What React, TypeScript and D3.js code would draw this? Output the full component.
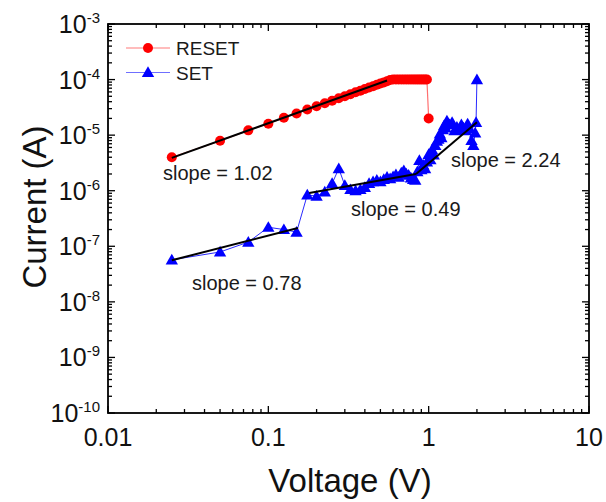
import React, { useEffect, useRef } from 'react';
import * as d3 from 'd3';

// RESET sweep (red circles)
const resetVoltage = [
  0.025, 0.05, 0.075, 0.1, 0.125, 0.15, 0.175, 0.2, 0.225, 0.25,
  0.275, 0.3, 0.325, 0.35, 0.375, 0.4, 0.425, 0.45, 0.475, 0.5,
  0.525, 0.55, 0.575, 0.6, 0.625, 0.65, 0.675, 0.7, 0.725, 0.75,
  0.775, 0.8, 0.825, 0.85, 0.875, 0.9, 0.925, 0.95, 0.975, 1.0,
];
const resetCurrent = [
  4.0e-6, 7.9e-6, 1.22e-5, 1.6e-5, 2.05e-5, 2.45e-5, 2.9e-5, 3.3e-5, 3.75e-5, 4.15e-5,
  4.6e-5, 5.0e-5, 5.45e-5, 5.9e-5, 6.3e-5, 6.75e-5, 7.2e-5, 7.6e-5, 8.05e-5, 8.5e-5,
  8.9e-5, 9.35e-5, 9.8e-5, 1.0e-4, 1.0e-4, 1.0e-4, 1.0e-4, 1.0e-4, 1.0e-4, 1.0e-4,
  1.0e-4, 1.0e-4, 1.0e-4, 1.0e-4, 1.0e-4, 1.0e-4, 1.0e-4, 1.0e-4, 1.0e-4, 2.0e-5,
];

// SET sweep (blue triangles)
const setVoltage = [
  0.025, 0.05, 0.075, 0.1, 0.125, 0.15, 0.175, 0.2, 0.225, 0.25,
  0.275, 0.3, 0.325, 0.35, 0.375, 0.4, 0.425, 0.45, 0.475, 0.5,
  0.525, 0.55, 0.575, 0.6, 0.625, 0.65, 0.675, 0.7, 0.725, 0.75,
  0.775, 0.8, 0.825, 0.85, 0.875, 0.9, 0.925, 0.95, 0.975, 1.0,
  1.025, 1.05, 1.075, 1.1, 1.125, 1.15, 1.175, 1.2, 1.225, 1.25,
  1.275, 1.3, 1.35, 1.4, 1.45, 1.5, 1.55, 1.6, 1.65, 1.7,
  1.75, 1.8, 1.85, 1.9, 1.95, 1.975, 2.0,
];
const setCurrent = [
  5.7e-8, 7.9e-8, 1.19e-7, 2.2e-7, 2.0e-7, 1.8e-7, 8.4e-7, 8.0e-7, 9.5e-7, 1.35e-6,
  2.5e-6, 1.25e-6, 1.05e-6, 1.0e-6, 1.05e-6, 1.15e-6, 1.35e-6, 1.45e-6, 1.55e-6, 1.45e-6,
  1.6e-6, 1.75e-6, 1.65e-6, 1.8e-6, 1.95e-6, 1.75e-6, 2.1e-6, 2.3e-6, 2.0e-6, 1.9e-6,
  1.7e-6, 1.6e-6, 1.55e-6, 2.2e-6, 3.5e-6, 2.4e-6, 2.9e-6, 2.5e-6, 3.3e-6, 4.5e-6,
  3.6e-6, 5.5e-6, 4.4e-6, 6.5e-6, 7.8e-6, 8.5e-6, 1.05e-5, 9.0e-6, 1.25e-5, 1.5e-5,
  1.35e-5, 1.8e-5, 1.55e-5, 1.7e-5, 1.2e-5, 1.4e-5, 1.25e-5, 1.55e-5, 1.35e-5, 1.2e-5,
  1.6e-5, 1.3e-5, 8.0e-6, 6.5e-6, 1.1e-5, 1.7e-5, 1.0e-4,
];

// linear fits on log-log axes: [start, end]
const fitVoltage = [[0.025, 0.55], [0.025, 0.153], [0.18, 0.834], [0.834, 2.0]];
const fitCurrent = [[3.9e-6, 9.6e-5], [5.6e-8, 2.13e-7], [9.1e-7, 2.0e-6], [2.0e-6, 1.7e-5]];
const slopeLabels = ['slope = 1.02', 'slope = 0.78', 'slope = 0.49', 'slope = 2.24'];

const legendLabels = ['RESET', 'SET'];

const FONT = "'Liberation Sans', Arial, sans-serif";

const App = () => {
  const ref = useRef<SVGSVGElement>(null);

  useEffect(() => {
    const svg = d3.select(ref.current);
    svg.selectAll('*').remove();

    const width = 606;
    const height = 502;
    const margin = { top: 24, right: 17, bottom: 89, left: 108 };
    const x0 = margin.left;
    const x1 = width - margin.right;
    const y0 = margin.top;
    const y1 = height - margin.bottom;

    const x = d3.scaleLog().domain([0.01, 10]).range([x0, x1]);
    const y = d3.scaleLog().domain([1e-10, 1e-3]).range([y1, y0]);

    const isMajor = (t: number) => Math.abs(Math.log10(t) - Math.round(Math.log10(t))) < 1e-6;

    // ticks (inward, all four sides)
    const ticks = svg.append('g').attr('stroke', '#000').attr('stroke-width', 1.3);
    x.ticks().forEach(t => {
      const len = isMajor(t) ? 7 : 4;
      const px = x(t);
      ticks.append('line').attr('x1', px).attr('x2', px).attr('y1', y1).attr('y2', y1 - len);
      ticks.append('line').attr('x1', px).attr('x2', px).attr('y1', y0).attr('y2', y0 + len);
    });
    y.ticks().forEach(t => {
      const len = isMajor(t) ? 7 : 4;
      const py = y(t);
      ticks.append('line').attr('y1', py).attr('y2', py).attr('x1', x0).attr('x2', x0 + len);
      ticks.append('line').attr('y1', py).attr('y2', py).attr('x1', x1).attr('x2', x1 - len);
    });

    svg.append('rect')
      .attr('x', x0).attr('y', y0)
      .attr('width', x1 - x0).attr('height', y1 - y0)
      .attr('fill', 'none').attr('stroke', '#000').attr('stroke-width', 1.8);

    // x labels
    x.ticks().filter(isMajor).forEach(t => {
      svg.append('text')
        .attr('x', x(t)).attr('y', 446)
        .attr('text-anchor', 'middle')
        .attr('font-family', FONT).attr('font-size', 25).attr('fill', '#111')
        .text(d3.format('~g')(t));
    });

    // y labels: 10^n
    y.ticks().filter(isMajor).forEach(t => {
      const e = Math.round(Math.log10(t));
      const txt = svg.append('text')
        .attr('x', 100).attr('y', y(t) + 9)
        .attr('text-anchor', 'end')
        .attr('font-family', FONT).attr('fill', '#111');
      txt.append('tspan').attr('font-size', 25).text('10');
      txt.append('tspan').attr('font-size', 15).attr('dy', -10).text(`-${-e}`);
    });

    // axis titles
    svg.append('text')
      .attr('x', 350).attr('y', 492)
      .attr('text-anchor', 'middle')
      .attr('font-family', FONT).attr('font-size', 33).attr('fill', '#111')
      .text('Voltage (V)');
    svg.append('text')
      .attr('transform', 'translate(46,207) rotate(-90)')
      .attr('text-anchor', 'middle')
      .attr('font-family', FONT).attr('font-size', 33).attr('fill', '#111')
      .text('Current (A)');

    const reset = resetVoltage.map((v, i) => [v, resetCurrent[i]]);
    const set = setVoltage.map((v, i) => [v, setCurrent[i]]);
    const line = d3.line<number[]>().x(d => x(d[0])).y(d => y(d[1]));
    const tri = d3.symbol().type(d3.symbolTriangle).size(66)();

    // RESET
    svg.append('path').attr('d', line(reset)).attr('fill', 'none')
      .attr('stroke', '#ff6f6f').attr('stroke-width', 1.2);
    svg.append('g').selectAll('circle').data(reset).join('circle')
      .attr('cx', d => x(d[0])).attr('cy', d => y(d[1])).attr('r', 5)
      .attr('fill', '#ff0000');

    // SET
    svg.append('path').attr('d', line(set)).attr('fill', 'none')
      .attr('stroke', '#2a2aff').attr('stroke-width', 1);
    svg.append('g').selectAll('path').data(set).join('path')
      .attr('d', tri)
      .attr('transform', d => `translate(${x(d[0])},${y(d[1]) + 1})`)
      .attr('fill', '#0000ff');

    // fits
    fitVoltage.forEach((v, k) => {
      svg.append('line')
        .attr('x1', x(v[0])).attr('y1', y(fitCurrent[k][0]))
        .attr('x2', x(v[1])).attr('y2', y(fitCurrent[k][1]))
        .attr('stroke', '#000').attr('stroke-width', 2);
    });

    // slope annotations
    const labelPos = [[163, 180], [192, 290], [351, 216], [451, 167]];
    slopeLabels.forEach((s, k) => {
      svg.append('text')
        .attr('x', labelPos[k][0]).attr('y', labelPos[k][1])
        .attr('font-family', FONT).attr('font-size', 20).attr('fill', '#1a1a1a')
        .text(s);
    });

    // legend
    const legend = svg.append('g');
    legendLabels.forEach((name, k) => {
      const ly = 48 + k * 24.5;
      legend.append('line').attr('x1', 126).attr('x2', 170).attr('y1', ly).attr('y2', ly)
        .attr('stroke', k === 0 ? '#ff7a7a' : '#6f6fff').attr('stroke-width', 1.2);
      if (k === 0) {
        legend.append('circle').attr('cx', 148).attr('cy', ly).attr('r', 5).attr('fill', '#ff0000');
      } else {
        legend.append('path').attr('d', tri).attr('transform', `translate(148,${ly + 1})`).attr('fill', '#0000ff');
      }
      legend.append('text').attr('x', 176).attr('y', ly + 7)
        .attr('font-family', FONT).attr('font-size', 19).attr('fill', '#1a1a1a')
        .text(name);
    });
  }, []);

  return (
    <svg ref={ref} width={606} height={502}
      style={{ position: 'absolute', left: 0, top: 0, background: '#fff' }} />
  );
};

export default App;
